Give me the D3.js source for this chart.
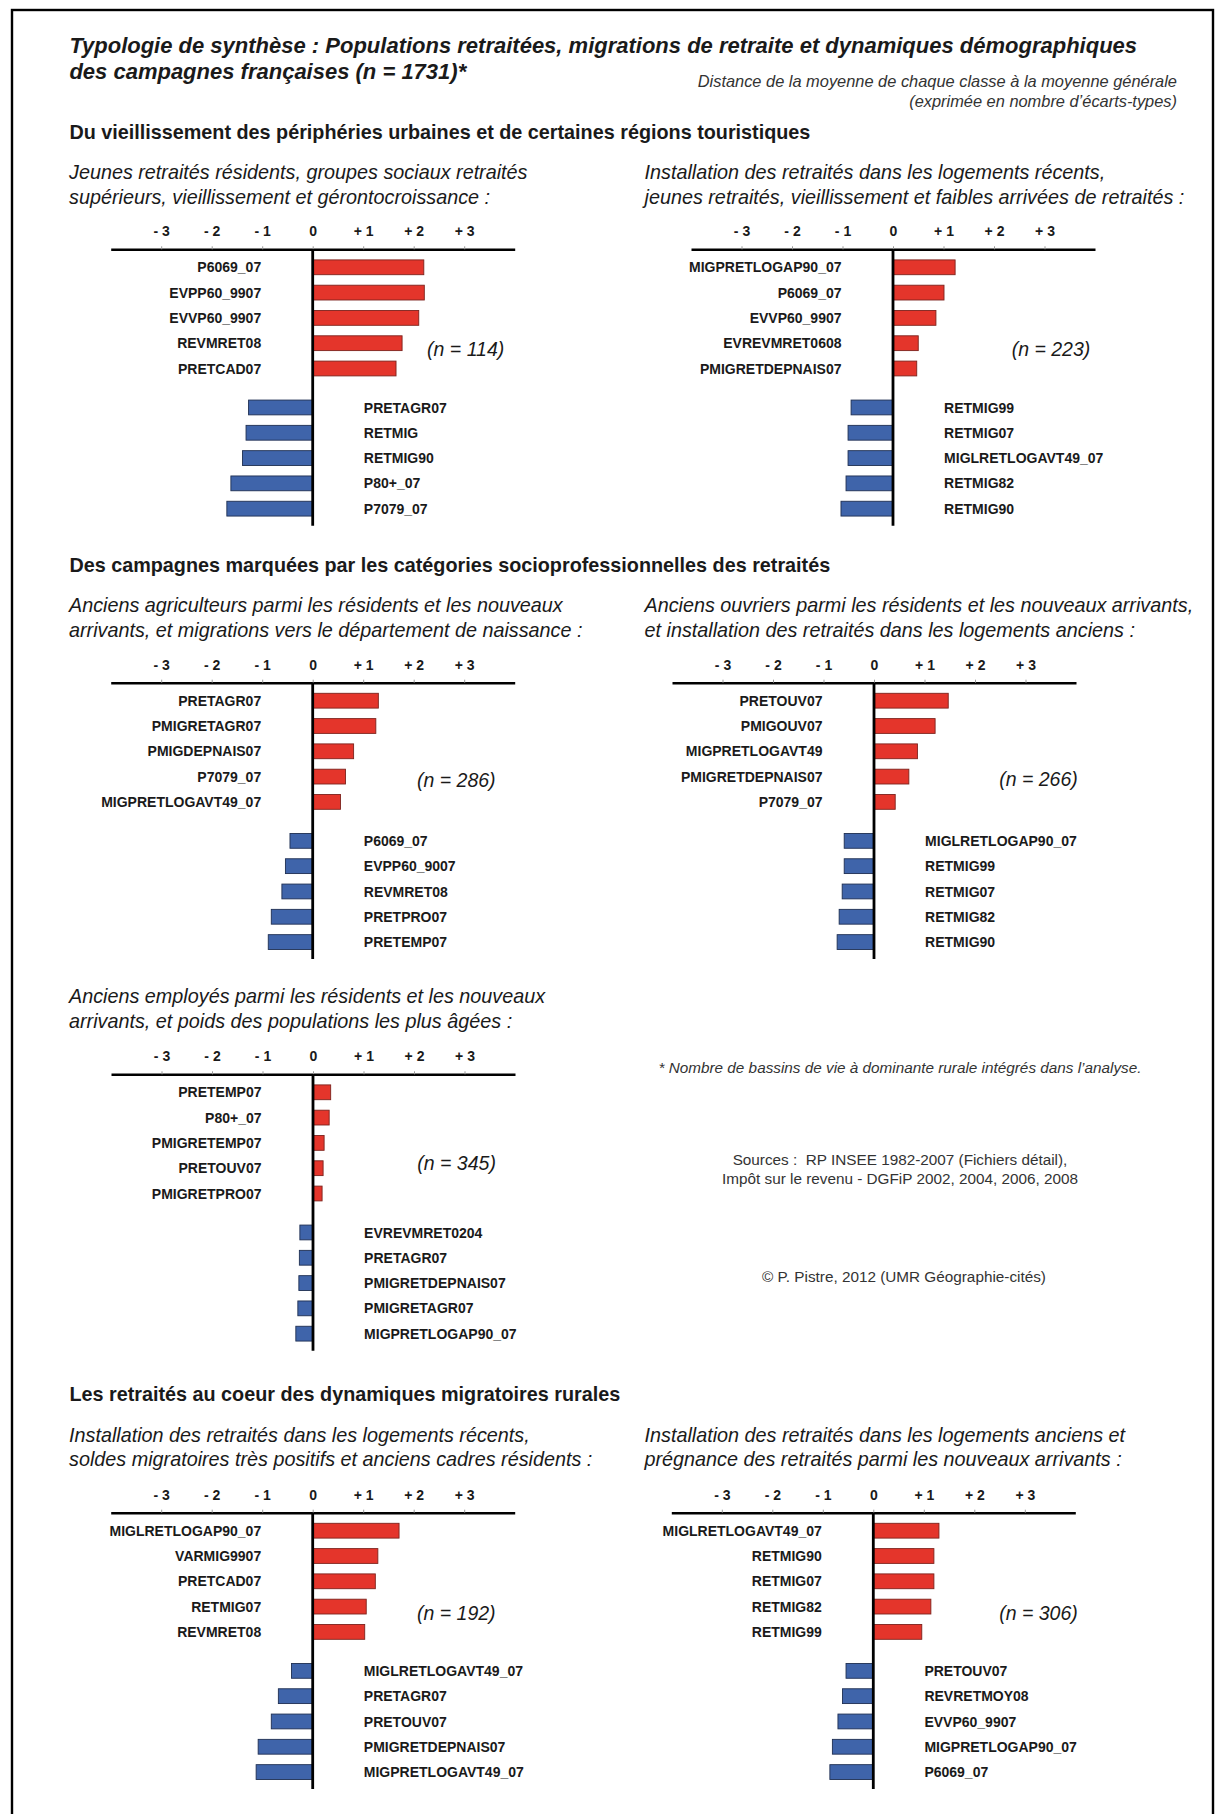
<!DOCTYPE html>
<html><head><meta charset="utf-8">
<script src="https://cdn.jsdelivr.net/npm/d3@7"></script>
<style>
html,body{margin:0;padding:0;background:#fff;}
svg{display:block;}
text{font-family:"Liberation Sans",Arial,Helvetica,sans-serif;fill:#1a1a1a;}
</style></head>
<body>
<div id="chart"></div>
<script>
// ---------------- DATA ----------------
const tickValues = [-3, -2, -1, 0, 1, 2, 3];
const counts = [114, 223, 286, 266, 345, 192, 306];

const sectionTitles = [
  "Du vieillissement des périphéries urbaines et de certaines régions touristiques",
  "Des campagnes marquées par les catégories socioprofessionnelles des retraités",
  "Les retraités au coeur des dynamiques migratoires rurales"
];

const panelSubtitles = [
  ["Jeunes retraités résidents, groupes sociaux retraités", "supérieurs, vieillissement et gérontocroissance :"],
  ["Installation des retraités dans les logements récents,", "jeunes retraités, vieillissement et faibles arrivées de retraités :"],
  ["Anciens agriculteurs parmi les résidents et les nouveaux", "arrivants, et migrations vers le département de naissance :"],
  ["Anciens ouvriers parmi les résidents et les nouveaux arrivants,", "et installation des retraités dans les logements anciens :"],
  ["Anciens employés parmi les résidents et les nouveaux", "arrivants, et poids des populations les plus âgées :"],
  ["Installation des retraités dans les logements récents,", "soldes migratoires très positifs et anciens cadres résidents :"],
  ["Installation des retraités dans les logements anciens et", "prégnance des retraités parmi les nouveaux arrivants :"]
];

const p1PosLabels = ["P6069_07", "EVPP60_9907", "EVVP60_9907", "REVMRET08", "PRETCAD07"];
const p1PosValues = [2.20, 2.21, 2.10, 1.77, 1.65];
const p1NegLabels = ["PRETAGR07", "RETMIG", "RETMIG90", "P80+_07", "P7079_07"];
const p1NegValues = [-1.27, -1.32, -1.39, -1.62, -1.70];

const p2PosLabels = ["MIGPRETLOGAP90_07", "P6069_07", "EVVP60_9907", "EVREVMRET0608", "PMIGRETDEPNAIS07"];
const p2PosValues = [1.23, 1.01, 0.85, 0.50, 0.47];
const p2NegLabels = ["RETMIG99", "RETMIG07", "MIGLRETLOGAVT49_07", "RETMIG82", "RETMIG90"];
const p2NegValues = [-0.83, -0.89, -0.89, -0.93, -1.03];

const p3PosLabels = ["PRETAGR07", "PMIGRETAGR07", "PMIGDEPNAIS07", "P7079_07", "MIGPRETLOGAVT49_07"];
const p3PosValues = [1.30, 1.25, 0.81, 0.65, 0.55];
const p3NegLabels = ["P6069_07", "EVPP60_9007", "REVMRET08", "PRETPRO07", "PRETEMP07"];
const p3NegValues = [-0.45, -0.54, -0.61, -0.82, -0.88];

const p4PosLabels = ["PRETOUV07", "PMIGOUV07", "MIGPRETLOGAVT49", "PMIGRETDEPNAIS07", "P7079_07"];
const p4PosValues = [1.47, 1.21, 0.86, 0.69, 0.42];
const p4NegLabels = ["MIGLRETLOGAP90_07", "RETMIG99", "RETMIG07", "RETMIG82", "RETMIG90"];
const p4NegValues = [-0.59, -0.59, -0.63, -0.69, -0.73];

const p5PosLabels = ["PRETEMP07", "P80+_07", "PMIGRETEMP07", "PRETOUV07", "PMIGRETPRO07"];
const p5PosValues = [0.35, 0.32, 0.22, 0.20, 0.18];
const p5NegLabels = ["EVREVMRET0204", "PRETAGR07", "PMIGRETDEPNAIS07", "PMIGRETAGR07", "MIGPRETLOGAP90_07"];
const p5NegValues = [-0.26, -0.27, -0.28, -0.30, -0.34];

const p6PosLabels = ["MIGLRETLOGAP90_07", "VARMIG9907", "PRETCAD07", "RETMIG07", "REVMRET08"];
const p6PosValues = [1.71, 1.29, 1.24, 1.06, 1.03];
const p6NegLabels = ["MIGLRETLOGAVT49_07", "PRETAGR07", "PRETOUV07", "PMIGRETDEPNAIS07", "MIGPRETLOGAVT49_07"];
const p6NegValues = [-0.42, -0.68, -0.82, -1.08, -1.12];

const p7PosLabels = ["MIGLRETLOGAVT49_07", "RETMIG90", "RETMIG07", "RETMIG82", "RETMIG99"];
const p7PosValues = [1.30, 1.20, 1.20, 1.14, 0.96];
const p7NegLabels = ["PRETOUV07", "REVRETMOY08", "EVVP60_9907", "MIGPRETLOGAP90_07", "P6069_07"];
const p7NegValues = [-0.54, -0.61, -0.70, -0.81, -0.86];

const posLabelSets = [p1PosLabels, p2PosLabels, p3PosLabels, p4PosLabels, p5PosLabels, p6PosLabels, p7PosLabels];
const posValueSets = [p1PosValues, p2PosValues, p3PosValues, p4PosValues, p5PosValues, p6PosValues, p7PosValues];
const negLabelSets = [p1NegLabels, p2NegLabels, p3NegLabels, p4NegLabels, p5NegLabels, p6NegLabels, p7NegLabels];
const negValueSets = [p1NegValues, p2NegValues, p3NegValues, p4NegValues, p5NegValues, p6NegValues, p7NegValues];

// ---------------- LAYOUT ----------------
const W = 1216, H = 1814;
const layout = [
  {zx: 312.7, ay: 249.3, tx: 69,    sy: 179,  ndx: 153,   ndy: 100},
  {zx: 893,   ay: 249.3, tx: 644.5, sy: 179,  ndx: 158,   ndy: 100},
  {zx: 312.7, ay: 682.7, tx: 69,    sy: 612,  ndx: 143.6, ndy: 97.3},
  {zx: 874,   ay: 682.7, tx: 644.5, sy: 612,  ndx: 164.5, ndy: 96.6},
  {zx: 313,   ay: 1074.3,tx: 69,    sy: 1003, ndx: 143.6, ndy: 88.4},
  {zx: 312.7, ay: 1512.7,tx: 69,    sy: 1441.5,ndx: 143.6, ndy: 100},
  {zx: 873.3, ay: 1512.7,tx: 644.5, sy: 1441.5,ndx: 165.2, ndy: 100}
];
const sectionY = [139, 571.5, 1401];
const RED = "#e4352b", RED_STROKE = "#7d231d";
const BLUE = "#3f64aa", BLUE_STROKE = "#1f2f52";
const FONT_LABEL = 14;

const svg = d3.select("#chart").append("svg").attr("width", W).attr("height", H);
svg.append("rect").attr("width", W).attr("height", H).attr("fill", "#fff");
svg.append("rect").attr("x", 12).attr("y", 10).attr("width", 1201).attr("height", 1820)
  .attr("fill", "none").attr("stroke", "#000").attr("stroke-width", 2.4);

// title
svg.append("text").attr("x", 69.4).attr("y", 53)
  .style("font-size", "22px").style("font-weight", "bold").style("font-style", "italic")
  .text("Typologie de synthèse : Populations retraitées, migrations de retraite et dynamiques démographiques");
svg.append("text").attr("x", 69.4).attr("y", 78.5)
  .style("font-size", "22px").style("font-weight", "bold").style("font-style", "italic")
  .text("des campagnes françaises (n = 1731)*");
svg.append("text").attr("x", 1177).attr("y", 87).attr("text-anchor", "end")
  .style("font-size", "16.4px").style("font-style", "italic").style("fill", "#333")
  .text("Distance de la moyenne de chaque classe à la moyenne générale");
svg.append("text").attr("x", 1177).attr("y", 106.5).attr("text-anchor", "end")
  .style("font-size", "16.4px").style("font-style", "italic").style("fill", "#333")
  .text("(exprimée en nombre d’écarts-types)");

sectionTitles.forEach((t, i) => {
  svg.append("text").attr("x", 69.4).attr("y", sectionY[i])
    .style("font-size", "19.8px").style("font-weight", "bold").text(t);
});

// footnotes
svg.append("text").attr("x", 900).attr("y", 1073).attr("text-anchor", "middle")
  .style("font-size", "15.3px").style("font-style", "italic").style("fill", "#333")
  .text("* Nombre de bassins de vie à dominante rurale intégrés dans l’analyse.");
svg.append("text").attr("x", 900).attr("y", 1164.5).attr("text-anchor", "middle")
  .style("font-size", "15.3px").style("fill", "#333")
  .text("Sources :\u00A0 RP INSEE 1982-2007 (Fichiers détail),");
svg.append("text").attr("x", 900).attr("y", 1184).attr("text-anchor", "middle")
  .style("font-size", "15.3px").style("fill", "#333")
  .text("Impôt sur le revenu - DGFiP 2002, 2004, 2006, 2008");
svg.append("text").attr("x", 904).attr("y", 1281.5).attr("text-anchor", "middle")
  .style("font-size", "15.3px").style("fill", "#333")
  .text("© P. Pistre, 2012 (UMR Géographie-cités)");

const fmt = d => d === 0 ? "0" : (d > 0 ? "+ " : "- ") + Math.abs(d);

layout.forEach((L, p) => {
  const g = svg.append("g");
  // subtitle
  panelSubtitles[p].forEach((line, k) => {
    g.append("text").attr("x", L.tx).attr("y", L.sy + k * 24.5)
      .style("font-size", "19.8px").style("font-style", "italic").text(line);
  });

  const x = d3.scaleLinear().domain([-4, 4]).range([L.zx - 202, L.zx + 202]);
  const row = d3.scaleLinear().domain([0, 1]).range([L.ay + 18, L.ay + 18 + 25.3]);
  const BH = 14.8;

  const pos = posLabelSets[p].map((lab, i) => ({lab, v: posValueSets[p][i], r: i}));
  const neg = negLabelSets[p].map((lab, i) => ({lab, v: negValueSets[p][i], r: 5.54 + i}));

  // bars
  g.selectAll("rect.pos").data(pos).enter().append("rect")
    .attr("x", x(0)).attr("width", d => x(d.v) - x(0))
    .attr("y", d => row(d.r) - BH / 2).attr("height", BH)
    .attr("fill", RED).attr("stroke", RED_STROKE).attr("stroke-width", 0.9);
  g.selectAll("rect.neg").data(neg).enter().append("rect")
    .attr("x", d => x(d.v)).attr("width", d => x(0) - x(d.v))
    .attr("y", d => row(d.r) - BH / 2).attr("height", BH)
    .attr("fill", BLUE).attr("stroke", BLUE_STROKE).attr("stroke-width", 0.9);

  // labels
  g.selectAll("text.pl").data(pos).enter().append("text")
    .attr("x", x(-1) - 1).attr("y", d => row(d.r)).attr("dy", "0.36em")
    .attr("text-anchor", "end").style("font-size", FONT_LABEL + "px").style("font-weight", "bold")
    .text(d => d.lab);
  g.selectAll("text.nl").data(neg).enter().append("text")
    .attr("x", x(1) + 0.6).attr("y", d => row(d.r)).attr("dy", "0.36em")
    .style("font-size", FONT_LABEL + "px").style("font-weight", "bold")
    .text(d => d.lab);

  // axis
  const ax = g.append("g").attr("transform", `translate(0,${L.ay})`)
    .call(d3.axisTop(x).tickValues(tickValues).tickFormat(fmt).tickSize(3).tickSizeOuter(0).tickPadding(10));
  ax.select(".domain").attr("stroke", "#000").attr("stroke-width", 2.6);
  ax.selectAll(".tick line").attr("stroke", "#999").attr("stroke-width", 1);
  ax.selectAll(".tick text").style("font-size", "14px").style("font-weight", "bold")
    .style("font-family", "'Liberation Sans',Arial,sans-serif").attr("fill", "#1a1a1a");

  // zero line
  g.append("line").attr("x1", x(0)).attr("x2", x(0))
    .attr("y1", L.ay).attr("y2", row(5.54 + 4) + 17)
    .attr("stroke", "#000").attr("stroke-width", 2.8);

  // count
  g.append("text").attr("x", L.zx + L.ndx).attr("y", L.ay + L.ndy).attr("dy", "0.36em")
    .attr("text-anchor", "middle").style("font-size", "19.5px").style("font-style", "italic")
    .text(`(n = ${counts[p]})`);
});
</script>
</body></html>
